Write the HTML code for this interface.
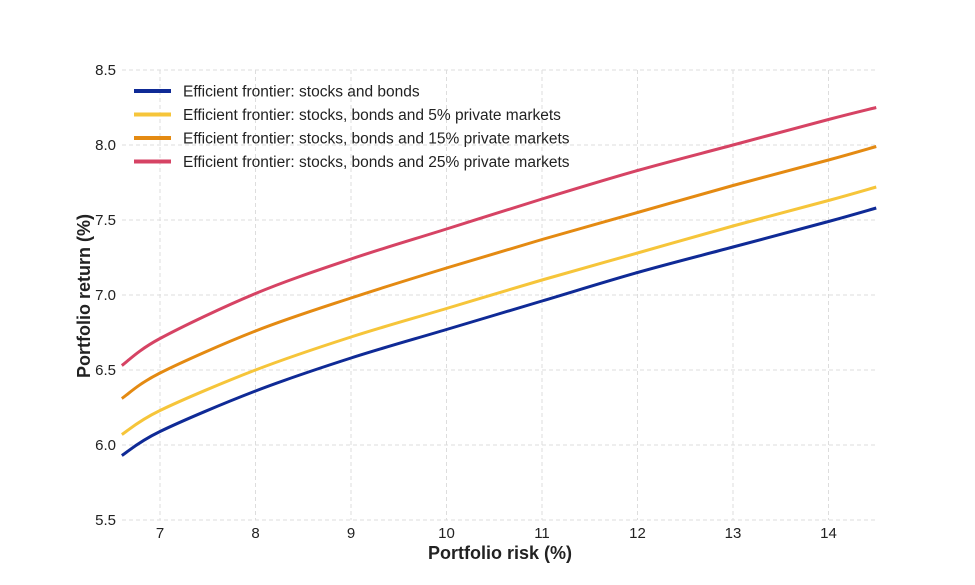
<!DOCTYPE html><html><head><style>body{margin:0;background:#fff}svg{display:block;font-family:"Liberation Sans",sans-serif}</style></head><body>
<svg id="s" width="975" height="585" viewBox="0 0 975 585"></svg>
<script>
const s=document.getElementById('s');let h='';
const X=v=>160+(v-7)*95.5, Y=v=>520-(v-5.5)*150;
for(const v of [7,8,9,10,11,12,13,14]){h+=`<line x1="${X(v)}" y1="70" x2="${X(v)}" y2="520" stroke="#ddd" stroke-dasharray="4,3"/><text x="${X(v)}" y="538" font-size="15" fill="#222" text-anchor="middle">${v}</text>`;}
for(const v of [5.5,6,6.5,7,7.5,8,8.5]){h+=`<line x1="122" y1="${Y(v)}" x2="878" y2="${Y(v)}" stroke="#ddd" stroke-dasharray="4,3"/><text x="116" y="${Y(v)+5}" font-size="15" fill="#222" text-anchor="end">${v.toFixed(1)}</text>`;}
const xs=[6.6,7,8,9,10,11,12,13,14,14.5];
const D=[["#0f2a96",[5.93,6.09,6.36,6.58,6.77,6.96,7.15,7.32,7.49,7.58]],["#f6c53a",[6.07,6.23,6.50,6.72,6.91,7.10,7.28,7.46,7.63,7.72]],["#e48a12",[6.31,6.48,6.76,6.98,7.18,7.37,7.55,7.73,7.90,7.99]],["#d64364",[6.53,6.71,7.01,7.24,7.44,7.64,7.83,8.00,8.17,8.25]]];
for(const [c,ys] of D){const P=xs.map((x,i)=>[X(x),Y(ys[i])]);let d=`M${P[0]}`;for(let i=0;i<P.length-1;i++){const p0=P[Math.max(0,i-1)],p1=P[i],p2=P[i+1],p3=P[Math.min(P.length-1,i+2)];d+=`C${p1[0]+(p2[0]-p0[0])/6},${p1[1]+(p2[1]-p0[1])/6} ${p2[0]-(p3[0]-p1[0])/6},${p2[1]-(p3[1]-p1[1])/6} ${p2[0]},${p2[1]}`;}h+=`<path d="${d}" fill="none" stroke="${c}" stroke-width="3"/>`;}
const L=["Efficient frontier: stocks and bonds","Efficient frontier: stocks, bonds and 5% private markets","Efficient frontier: stocks, bonds and 15% private markets","Efficient frontier: stocks, bonds and 25% private markets"];
L.forEach((t,i)=>{const y=91+i*23.5;h+=`<line x1="134" y1="${y}" x2="171" y2="${y}" stroke="${D[i][0]}" stroke-width="4"/><text x="183" y="${y+5.5}" font-size="15.5" fill="#222">${t}</text>`;});
h+=`<text x="500" y="559" font-size="18" font-weight="bold" fill="#222" text-anchor="middle">Portfolio risk (%)</text><text transform="translate(90,296) rotate(-90)" font-size="18" font-weight="bold" fill="#222" text-anchor="middle">Portfolio return (%)</text>`;
s.innerHTML=h;
</script></body></html>
